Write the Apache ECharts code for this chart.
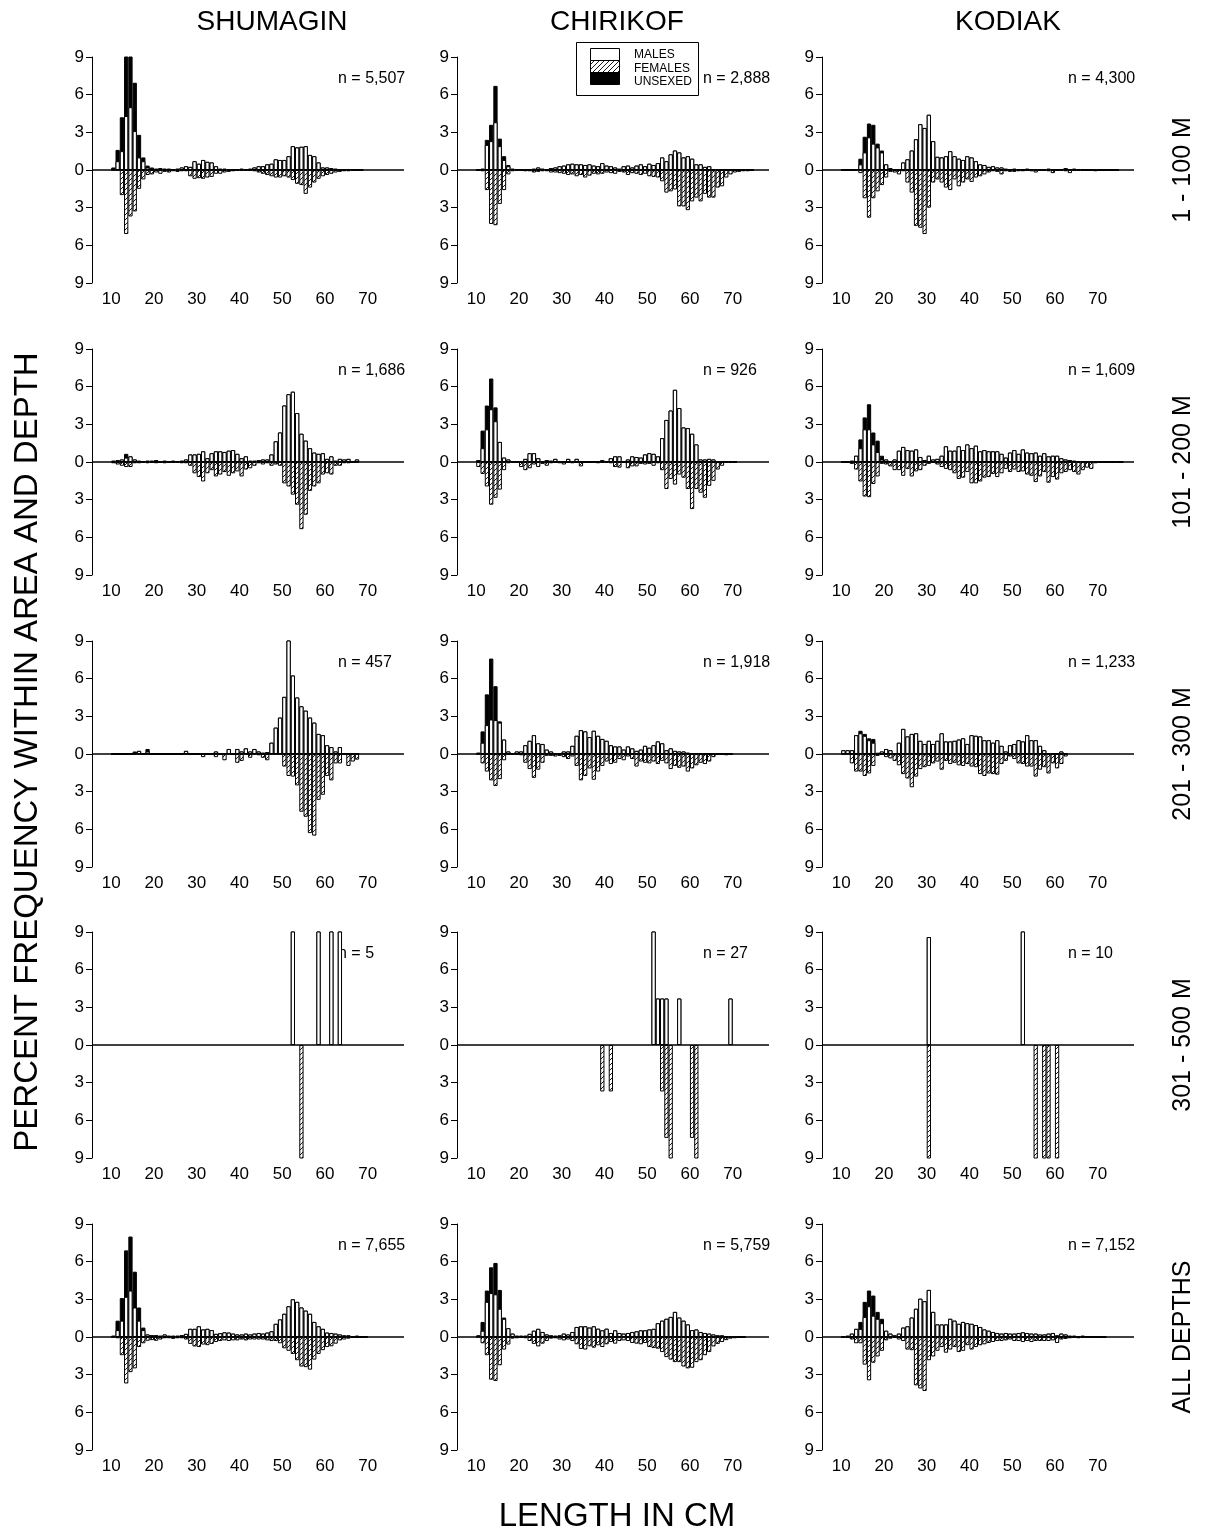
<!DOCTYPE html>
<html>
<head>
<meta charset="utf-8">
<script src="https://cdn.jsdelivr.net/npm/echarts@6/dist/echarts.min.js"></script>
<style>
html, body { margin: 0; padding: 0; background: #fff; }
#chart { width: 1206px; height: 1538px; }
</style>
</head>
<body>
<div id="chart"></div>
<script>
// length bins (cm); the dense arrays below start at 10 cm, one value per cm
var firstLength = 10;
var areas = ['SHUMAGIN', 'CHIRIKOF', 'KODIAK'];
var depths = ['1 - 100 M', '101 - 200 M', '201 - 300 M', '301 - 500 M', 'ALL DEPTHS'];
var sampleSizes = [
	['5,507', '2,888', '4,300'],
	['1,686', '926', '1,609'],
	['457', '1,918', '1,233'],
	['5', '27', '10'],
	['7,655', '5,759', '7,152']
];
var xTicks = [10, 20, 30, 40, 50, 60, 70];

// percent frequency, 1 - 100 m
var shu100M = [0.1,0.7,1.5,4.3,5.0,3.1,1.0,0.7,0.2,0.15, 0.1,0.15,0.1,0.1,0.05,0.1,0.2,0.3,0.25,0.7, 0.5,0.8,0.65,0.6,0.3,0.1,0.1,0.05,0.05,0.05, 0.1,0.05,0.1,0.2,0.3,0.3,0.45,0.5,0.85,0.8, 0.8,1.1,1.9,1.8,1.85,1.9,1.2,1.1,0.6,0.2, 0.2,0.15,0.1,0.05,0.05,0.05,0.05,0,0.05];
var shu100F = [0,0,2.0,5.1,3.7,3.3,1.5,0.75,0.4,0.35, 0.2,0.3,0.15,0.2,0.1,0.15,0.1,0.1,0.5,0.7, 0.65,0.7,0.6,0.55,0.3,0.3,0.2,0.15,0.1,0.05, 0.05,0.05,0.05,0.1,0.2,0.3,0.4,0.5,0.6,0.6, 0.5,0.6,0.8,1.1,1.2,1.9,1.4,1.0,0.7,0.5, 0.4,0.3,0.2,0.15,0.1,0.1,0.05,0.05,0];
var shu100U = [0.1,0.9,2.7,5.0,4.3,3.85,1.8,0.3,0.15,0.05];

var chi100M = [0,0.1,2.0,2.3,3.8,1.9,0.8,0.3,0.1,0.05, 0.05,0,0.05,0.1,0.2,0.1,0.05,0.15,0.2,0.3, 0.35,0.45,0.5,0.45,0.45,0.4,0.45,0.35,0.3,0.55, 0.35,0.3,0.2,0.1,0.3,0.35,0.2,0.35,0.45,0.3, 0.5,0.4,0.55,1.0,0.7,1.25,1.55,1.4,1.0,1.1, 0.9,0.45,0.45,0.25,0.3,0.05,0.05,0,0.05,0, 0.05,0,0.05,0,0];
var chi100F = [0,0.1,1.6,4.3,4.4,2.7,1.6,0.35,0.1,0.05, 0.05,0.1,0.1,0.2,0.15,0.1,0.1,0.2,0.2,0.25, 0.3,0.4,0.35,0.5,0.4,0.6,0.45,0.3,0.35,0.3, 0.2,0.25,0.3,0.15,0.2,0.4,0.25,0.3,0.4,0.3, 0.5,0.55,0.6,0.9,1.8,1.7,1.55,2.9,2.9,3.2, 2.5,2.2,2.5,1.9,2.2,2.2,1.4,1.3,0.6,0.35, 0.2,0.15,0.1,0.1,0.05];
var chi100U = [0,0,0.4,1.3,2.9,0.6,0.3,0.1];

var kod100M = [0,0,0,0.05,0.45,1.4,2.6,2.1,1.8,1.4, 0.45,0.15,0.05,0.05,0.6,0.85,1.55,2.45,3.65,3.35, 4.4,2.3,1.05,1.0,1.1,1.5,1.1,0.9,0.8,1.1, 1.0,0.7,0.45,0.4,0.25,0.3,0.2,0.2,0.1,0.05, 0.1,0.05,0.05,0.1,0.05,0.05,0.05,0.05,0.1,0.05, 0.05,0.05,0.15,0.05,0.1,0.05,0.05,0,0.05,0, 0.05,0,0.05,0,0.05];
var kod100F = [0,0,0,0,0.25,2.25,3.8,2.25,1.7,1.2, 0.6,0.15,0.2,0.35,0.1,1.0,1.8,4.45,4.6,5.1, 3.0,1.0,0.75,1.0,1.4,1.6,0.75,1.3,1.0,0.75, 0.95,0.6,0.5,0.35,0.2,0.1,0.15,0.35,0.1,0.15, 0.15,0.1,0.1,0.05,0.1,0.2,0.05,0.05,0.1,0.25, 0.05,0.05,0.1,0.25,0.05,0.05,0.05,0.05,0.05,0.1, 0.05,0.05,0,0.05,0];
var kod100U = [0,0,0,0,0.45,1.25,1.1,1.5,0.3,0.15];

// 101 - 200 m
var shu200M = [0.1,0.15,0.2,0.35,0.45,0.2,0.1,0.05,0.1,0.1, 0.15,0,0.1,0.05,0.1,0.05,0.1,0.2,0.6,0.6, 0.65,0.85,0.3,0.7,0.85,0.85,0.8,0.9,0.95,0.65, 0.3,0.45,0.1,0.1,0.15,0.2,0.2,0.6,1.65,2.35, 4.5,5.4,5.6,3.9,2.25,1.7,1.1,0.75,0.65,0.7, 0.25,0.45,0.1,0.25,0.2,0.25,0,0.2];
var shu200F = [0.1,0.2,0.3,0.4,0.4,0.1,0.1,0.05,0.1,0.05, 0.1,0.05,0.1,0.05,0.05,0.05,0.1,0.1,0.3,0.9, 1.2,1.55,0.9,0.65,1.15,1.0,0.8,1.1,0.9,0.75, 1.15,0.6,0.5,0.3,0.1,0.2,0.1,0.3,0.2,0.3, 1.7,1.95,2.6,3.4,5.35,4.2,2.3,1.95,1.7,1.0, 0.9,1.0,0.3,0.3,0.1,0.1,0,0];
var shu200U = [0,0,0,0.3];

var chi200M = [0.15,1.1,2.6,4.2,3.25,1.6,0.35,0.2,0.05,0.05, 0,0.25,0.7,0.7,0.3,0.05,0.15,0.1,0.25,0, 0.05,0.25,0,0.25,0.05,0,0,0.05,0,0.15, 0.05,0.3,0.45,0.45,0.05,0.2,0.45,0.4,0.35,0.6, 0.7,0.65,0.45,1.9,3.35,4.1,5.75,4.3,2.75,2.7, 2.25,1.4,0.2,0.2,0.25,0.2,0,0,0.05,0.05, 0];
var chi200F = [0.4,0.95,1.95,3.4,2.85,2.2,0.65,0.1,0,0.05, 0.4,0.65,0.5,0.2,0.4,0.15,0.3,0.1,0.05,0.1, 0.2,0.05,0.1,0.05,0.35,0,0,0,0.1,0.05, 0.05,0.1,0.4,0.45,0.05,0.5,0.35,0.35,0.15,0.2, 0.15,0.3,0.1,0.65,2.15,1.35,1.8,1.0,1.25,2.15, 3.75,2.15,2.45,2.85,1.9,1.5,0.6,0.3,0.05,0.05, 0.05];
var chi200U = [0,1.4,1.9,2.45,1.1];

var kod200M = [0,0,0.1,0.5,1.1,2.6,2.6,1.4,0.8,0.2, 0.2,0.05,0.2,0.9,1.2,0.95,0.9,1.0,0.4,0.15, 0.5,0.2,0.25,0.5,1.25,0.9,0.9,1.25,0.95,1.4, 1.1,1.3,0.85,0.95,0.85,0.85,0.85,0.65,0.35,0.75, 0.95,0.65,1.0,0.75,0.7,0.75,0.5,0.7,0.45,0.5, 0.5,0.3,0.2,0.15,0.1,0.05,0.05,0.05,0.05,0.05, 0,0.05,0,0.05,0.05,0];
var kod200F = [0,0,0.15,0.6,1.55,2.75,2.8,1.75,1.15,0.15, 0.2,0.35,0.65,0.65,1.1,0.55,1.15,0.75,0.65,0.3, 0.15,0.05,0.2,0.4,0.55,0.65,0.9,1.35,1.25,0.8, 1.7,1.7,1.55,1.25,1.2,0.95,1.2,0.9,0.55,0.8, 0.6,0.8,0.75,1.0,1.1,1.6,1.15,0.8,1.65,1.2, 1.4,0.9,0.8,0.65,0.8,1.0,0.65,0.45,0.55,0.1, 0.05,0,0.05,0.05,0,0.05];
var kod200U = [0,0,0,0,0.7,0.95,2.0,0.95,0.9,0.3];

// 201 - 300 m
var shu300M = [0,0,0,0,0,0.05,0.25,0,0.2,0, 0,0,0,0,0,0,0,0.25,0,0, 0,0,0,0,0.2,0,0,0.4,0,0.4, 0.2,0.45,0.2,0.4,0.2,0.1,0.15,0.9,2.1,2.9, 4.55,9.1,6.25,4.5,3.8,3.45,2.9,2.5,1.6,1.5, 0.7,0.55,0.2,0.55,0,0,0,0];
var shu300F = [0,0,0,0,0,0,0,0,0,0, 0,0,0,0,0,0,0,0,0,0, 0,0.25,0,0,0.25,0,0.5,0,0,0.7, 0.55,0,0.3,0,0.1,0.3,0.5,0,0,0, 1.0,1.75,1.8,2.5,4.6,5.0,6.3,6.5,3.65,3.25, 1.75,2.1,0.75,0.75,0,0.95,0.6,0.45];
var shu300U = [0,0,0,0,0,0.15,0,0,0.2];

var chi300M = [0.1,0.9,2.3,2.75,2.7,2.5,1.15,0.2,0.05,0.2, 0.2,0.7,1.05,1.5,0.85,0.8,0.35,0.2,0.05,0.05, 0.2,0.2,0.65,1.45,1.9,1.8,1.35,1.85,1.45,1.2, 1.05,0.7,0.6,0.6,0.35,0.6,0.45,0.25,0.35,0.65, 0.5,0.7,1.0,0.85,0.3,0.45,0.25,0.2,0.2,0.1, 0.05,0.05,0.05,0.05,0,0,0.05,0,0.05,0];
var chi300F = [0,0.75,1.4,2.1,2.55,2.0,0.5,0.05,0.05,0.05, 0.1,0.7,1.2,1.9,1.25,0.7,0.15,0.15,0.2,0.15, 0.25,0.4,0.2,0.95,2.1,1.75,1.15,2.05,1.4,0.95, 0.6,0.8,0.7,0.4,0.5,0.2,0.4,1.0,0.6,0.7, 0.75,0.6,0.8,0.55,0.75,1.2,0.95,1.1,1.0,1.4, 1.15,0.9,0.7,0.8,0.6,0.25,0.05,0.05,0.1,0.05];
var chi300U = [0,0.9,2.45,4.85,2.7,0.1];

var kod300M = [0.3,0.3,0.3,1.5,1.65,1.45,1.1,0.9,0.05,0.2, 0.4,0.3,0.05,0.9,2.0,1.4,1.6,1.65,1.05,0.8, 1.05,0.8,1.05,1.65,1.0,1.0,1.05,1.15,1.25,0.8, 1.5,1.45,1.4,1.1,1.1,0.9,1.1,0.65,0.2,0.7, 0.8,1.1,1.0,1.5,1.1,1.1,0.65,0.3,0.05,0.05, 0.05,0.2,0.05];
var kod300F = [0,0,0.75,1.4,1.4,1.75,1.55,0.95,0.15,0.05, 0.25,0.35,0.55,0.9,1.6,1.95,2.65,1.8,1.2,1.05, 0.95,0.75,0.6,1.25,0.55,0.8,0.7,0.9,0.95,0.8, 1.0,1.05,1.6,1.75,1.55,1.6,1.65,0.8,0.55,0.2, 0.4,0.75,0.8,1.0,1.0,1.8,1.25,1.05,1.55,0.75, 1.15,0.8,0.2];
var kod300U = [0,0,0,0,0.2,0.15,0.15,0.3,0.05];

// 301 - 500 m: few fish, [length, percent]
var shu500M = [[52, 20], [58, 20], [61, 20], [63, 20]];
var shu500F = [[54, 20]];
var chi500M = [[51, 11.1], [52, 3.7], [53, 3.7], [54, 3.7], [57, 3.7], [69, 3.7]];
var chi500F = [[39, 3.7], [41, 3.7], [53, 3.7], [54, 7.4], [55, 11.1], [60, 7.4], [61, 11.1]];
var kod500M = [[30, 8.6], [52, 10]];
var kod500F = [[30, 10], [55, 10], [57, 10], [58, 10], [60, 10]];

// all depths
var shuAllM = [0.1,0.55,1.3,3.2,3.7,2.35,1.3,0.55,0.2,0.15, 0.15,0.1,0.2,0.1,0.1,0.1,0.15,0.25,0.65,0.65, 0.85,0.6,0.65,0.55,0.25,0.3,0.37,0.35,0.27,0.2, 0.2,0.27,0.2,0.27,0.32,0.27,0.35,0.45,1.05,1.4, 1.85,2.45,3.0,2.8,2.35,2.1,1.85,1.2,0.85,0.65, 0.35,0.32,0.27,0.2,0.13,0.13,0.05,0.1,0,0.05];
var shuAllF = [0,0.1,1.45,3.7,2.8,2.5,0.8,0.5,0.3,0.25, 0.3,0.2,0.1,0.1,0.15,0.1,0.1,0.2,0.55,0.75, 0.8,0.6,0.65,0.55,0.4,0.32,0.27,0.32,0.27,0.27, 0.2,0.27,0.2,0.2,0.2,0.2,0.27,0.32,0.32,0.5, 0.9,1.1,1.35,1.85,2.35,2.4,2.6,1.8,1.35,1.05, 0.8,0.74,0.53,0.27,0.2,0.13,0.05,0.05,0.05,0];
var shuAllU = [0,0.75,1.8,3.7,4.3,2.85,1.05,0.2];

var chiAllM = [0.13,0.5,2.8,3.5,3.4,2.25,1.45,0.7,0.27,0.1, 0.1,0.1,0.25,0.5,0.65,0.4,0.2,0.13,0.1,0.13, 0.27,0.2,0.4,0.8,0.85,0.85,0.75,0.85,0.66,0.53, 0.66,0.32,0.53,0.32,0.27,0.32,0.4,0.45,0.53,0.53, 0.6,0.65,1.1,1.3,1.45,1.6,2.0,1.55,1.3,1.0, 0.55,0.6,0.4,0.32,0.27,0.2,0.13,0.13,0.05,0.05, 0,0.05,0];
var chiAllF = [0,0.5,1.45,3.4,3.5,2.25,1.0,0.6,0.13,0.1, 0.05,0.1,0.32,0.55,0.75,0.53,0.32,0.13,0.1,0.2, 0.27,0.2,0.32,0.58,0.95,1.0,0.74,0.85,0.66,0.8, 0.58,0.4,0.53,0.32,0.27,0.32,0.48,0.53,0.58,0.48, 0.8,0.88,0.93,1.2,1.6,1.8,2.0,2.0,2.35,2.5, 2.45,2.0,1.85,1.45,1.2,0.75,0.55,0.4,0.25,0.13, 0.1,0.05,0.05];
var chiAllU = [0,0.7,0.9,2.05,2.5,1.5,0.1];

var kodAllM = [0.05,0.1,0.27,0.65,0.65,1.6,2.45,1.7,1.45,1.1, 0.5,0.27,0.13,0.27,0.75,0.85,1.55,2.25,3.05,2.85, 3.75,2.0,1.0,1.0,1.0,1.45,1.3,1.05,1.2,1.1, 1.05,0.95,0.8,0.6,0.5,0.4,0.32,0.27,0.32,0.27, 0.27,0.32,0.37,0.32,0.27,0.27,0.2,0.2,0.27,0.32, 0.13,0.27,0.2,0.1,0.1,0.05,0.1,0.05,0.05,0, 0.05,0];
var kodAllF = [0.05,0.05,0.2,0.5,0.5,2.2,3.45,2.05,1.55,1.1, 0.27,0.13,0.05,0.2,0.32,1.0,1.05,3.85,4.1,4.3, 1.85,1.55,1.1,0.8,1.25,1.0,0.8,1.2,1.1,0.65, 1.0,0.8,0.66,0.58,0.48,0.4,0.32,0.32,0.27,0.2, 0.32,0.32,0.4,0.32,0.4,0.32,0.32,0.32,0.32,0.27, 0.48,0.2,0.15,0.1,0.05,0.1,0.05,0.05,0,0.05, 0,0.05];
var kodAllU = [0,0,0,0,0.55,1.2,1.25,1.6,0.55,0.35];

var panels = [
	[shu100M, shu100F, shu100U], [chi100M, chi100F, chi100U], [kod100M, kod100F, kod100U],
	[shu200M, shu200F, shu200U], [chi200M, chi200F, chi200U], [kod200M, kod200F, kod200U],
	[shu300M, shu300F, shu300U], [chi300M, chi300F, chi300U], [kod300M, kod300F, kod300U],
	[shu500M, shu500F, []], [chi500M, chi500F, []], [kod500M, kod500F, []],
	[shuAllM, shuAllF, shuAllU], [chiAllM, chiAllF, chiAllU], [kodAllM, kodAllF, kodAllU]
];

var font = 'Liberation Sans, Arial, Helvetica, sans-serif';
var colLeft = [92, 457, 822];
var rowTop = [57, 349, 641, 932, 1224];
var gridW = 312, gridH = 226;
var xMin = 5.5, xMax = 78.5;
var barPx = gridW / (xMax - xMin);

// turn an array into {length: value}; dense arrays start at firstLength
function byLength(values) {
	var out = {};
	if (values.length && Array.isArray(values[0])) {
		values.forEach(function (p) { out[p[0]] = p[1]; });
	} else {
		values.forEach(function (v, i) { out[firstLength + i] = v; });
	}
	return out;
}
// bin L covers L..L+1 cm, so the bar sits at L + 0.5
function toPairs(obj, sign) {
	return Object.keys(obj).map(function (L) { return [+L + 0.5, sign * obj[L]]; });
}
// unsexed sit on top of the males: the black bar runs to males + unsexed
function totals(males, unsexed) {
	var out = {};
	Object.keys(males).forEach(function (L) { out[L] = males[L]; });
	Object.keys(unsexed).forEach(function (L) { out[L] = (out[L] || 0) + unsexed[L]; });
	return out;
}

function hatchPattern() {
	var c = document.createElement('canvas');
	c.width = 5; c.height = 5;
	var g = c.getContext('2d');
	g.fillStyle = '#fff';
	g.fillRect(0, 0, 5, 5);
	g.strokeStyle = '#000';
	g.lineWidth = 0.9;
	g.beginPath();
	g.moveTo(0, 5); g.lineTo(5, 0);
	g.moveTo(-1, 1); g.lineTo(1, -1);
	g.moveTo(4, 6); g.lineTo(6, 4);
	g.stroke();
	return c;
}
var hatch = { image: hatchPattern(), repeat: 'repeat' };

var grids = [], xAxes = [], yAxes = [], series = [], graphics = [];

panels.forEach(function (p, k) {
	var row = Math.floor(k / 3), col = k % 3;
	var males = byLength(p[0]), females = byLength(p[1]), unsexed = byLength(p[2]);
	grids.push({ left: colLeft[col], top: rowTop[row], width: gridW, height: gridH });
	xAxes.push({
		gridIndex: k, type: 'value', min: xMin, max: xMax,
		axisLine: { show: false, onZero: false },
		axisTick: { show: false },
		splitLine: { show: false },
		axisLabel: { customValues: xTicks, color: '#000', fontSize: 17, fontFamily: font, margin: 8 }
	});
	yAxes.push({
		gridIndex: k, type: 'value', min: -9, max: 9, interval: 3,
		axisLine: { show: true, lineStyle: { color: '#000', width: 1 } },
		axisTick: { show: true, length: 6, lineStyle: { color: '#000' } },
		splitLine: { show: false },
		axisLabel: {
			color: '#000', fontSize: 17, fontFamily: font, margin: 8,
			formatter: function (v) { return Math.abs(v); }
		}
	});
	var common = {
		type: 'bar', xAxisIndex: k, yAxisIndex: k,
		barWidth: barPx, barGap: '-100%', clip: true, silent: true
	};
	series.push(Object.assign({}, common, {
		name: 'UNSEXED', data: toPairs(totals(males, unsexed), 1),
		itemStyle: { color: '#000', borderColor: '#000', borderWidth: 1 }
	}));
	series.push(Object.assign({}, common, {
		name: 'MALES', data: toPairs(males, 1),
		itemStyle: { color: '#fff', borderColor: '#000', borderWidth: 1 }
	}));
	series.push(Object.assign({}, common, {
		name: 'FEMALES', data: toPairs(females, -1),
		itemStyle: { color: hatch, borderColor: '#000', borderWidth: 1 },
		markLine: {
			silent: true, symbol: ['none', 'none'], label: { show: false },
			lineStyle: { color: '#000', width: 1.6, type: 'solid' },
			data: [{ yAxis: 0 }]
		}
	}));
	graphics.push({
		type: 'text', left: colLeft[col] + 246, top: rowTop[row] + 14,
		style: { text: 'n = ' + sampleSizes[row][col], fontSize: 16, fontFamily: font, fill: '#000' }
	});
});

// column and row headings
var titleX = [272, 617, 1008];
areas.forEach(function (a, i) {
	graphics.push({
		type: 'text', x: titleX[i], y: 22,
		style: { text: a, fontSize: 28, fontFamily: font, fill: '#000', align: 'center', verticalAlign: 'middle' }
	});
});
depths.forEach(function (d, i) {
	graphics.push({
		type: 'text', x: 1183, y: rowTop[i] + gridH / 2, rotation: Math.PI / 2,
		style: { text: d, fontSize: 25, fontFamily: font, fill: '#000', align: 'center', verticalAlign: 'middle' }
	});
});
graphics.push({
	type: 'text', x: 28, y: 752, rotation: Math.PI / 2,
	style: { text: 'PERCENT FREQUENCY WITHIN AREA AND DEPTH', fontSize: 33, fontFamily: font, fill: '#000', align: 'center', verticalAlign: 'middle' }
});
graphics.push({
	type: 'text', x: 617, y: 1517,
	style: { text: 'LENGTH IN CM', fontSize: 33, fontFamily: font, fill: '#000', align: 'center', verticalAlign: 'middle' }
});

// key box in the Chirikof 1-100 m panel
var keyNames = ['MALES', 'FEMALES', 'UNSEXED'];
var keyFills = ['#fff', hatch, '#000'];
graphics.push({
	type: 'rect', shape: { x: 576.5, y: 42.5, width: 122, height: 53 },
	style: { fill: '#fff', stroke: '#000', lineWidth: 1 }, z: 10
});
keyNames.forEach(function (name, i) {
	graphics.push({
		type: 'rect', shape: { x: 590.5, y: 48.5 + i * 12, width: 29, height: 12 },
		style: { fill: keyFills[i], stroke: '#000', lineWidth: 1 }, z: 11
	});
	graphics.push({
		type: 'text', x: 634, y: 55 + i * 13.5, z: 11,
		style: { text: name, fontSize: 12, fontFamily: font, fill: '#000', verticalAlign: 'middle' }
	});
});

var myChart = echarts.init(document.getElementById('chart'));
var option = {
	animation: false,
	backgroundColor: '#fff',
	grid: grids,
	xAxis: xAxes,
	yAxis: yAxes,
	series: series,
	graphic: graphics
};
myChart.setOption(option, true);
</script>
</body>
</html>
